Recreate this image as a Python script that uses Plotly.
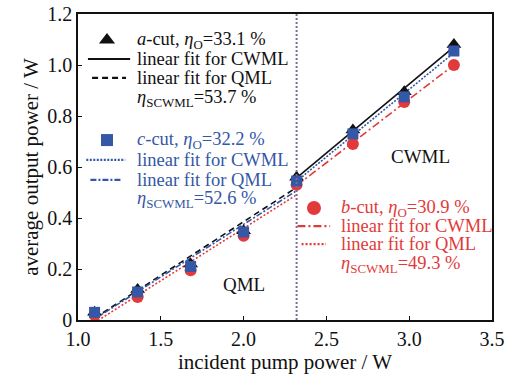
import numpy as np
import plotly.graph_objects as go

# Incident pump power (W) and average output power (W) per crystal cut
pump = [1.10, 1.36, 1.68, 2.00, 2.32, 2.66, 2.97, 3.27]
a_cut = [0.03, 0.12, 0.22, 0.35, 0.56, 0.745, 0.895, 1.08]
c_cut = [0.03, 0.11, 0.21, 0.345, 0.545, 0.73, 0.875, 1.055]
b_cut = [0.02, 0.09, 0.195, 0.33, 0.53, 0.69, 0.855, 1.00]
threshold = 2.32  # QML -> CWML transition

x_ticks = [1.0, 1.5, 2.0, 2.5, 3.0, 3.5]
x_tick_text = ["1.0", "1.5", "2.0", "2.5", "3.0", "3.5"]
y_ticks = [0, 0.2, 0.4, 0.6, 0.8, 1.0, 1.2]
y_tick_text = ["0", "0.2", "0.4", "0.6", "0.8", "1.0", "1.2"]

BLACK = "#111111"
BLUE = "#3457a6"
RED = "#e23a3a"
FONT = "Liberation Serif, Times New Roman, serif"

fig = go.Figure()


def fit_line(xs, ys, lo, hi):
    x = np.array(xs)
    y = np.array(ys)
    m = (x >= lo - 1e-9) & (x <= hi + 1e-9)
    k, b = np.polyfit(x[m], y[m], 1)
    xx = np.array([x[m].min(), x[m].max()])
    return xx, k * xx + b


series = [
    (a_cut, BLACK, "triangle-up", 13, "solid", "6px,4px"),
    (c_cut, BLUE, "square", 11, "2px,1.5px", "6px,2px,2px,2px"),
    (b_cut, RED, "circle", 12, "8px,3px,2px,3px", "2px,2px"),
]

for ys, col, sym, size, cw_dash, q_dash in series:
    xq, yq = fit_line(pump, ys, pump[0], threshold)
    xc, yc = fit_line(pump, ys, threshold, pump[-1])
    fig.add_trace(go.Scatter(x=xq, y=yq, mode="lines",
                             line=dict(color=col, width=1.6, dash=q_dash), showlegend=False))
    fig.add_trace(go.Scatter(x=xc, y=yc, mode="lines",
                             line=dict(color=col, width=1.6, dash=cw_dash), showlegend=False))

# markers on top (b first so a/c sit above)
for ys, col, sym, size, cw_dash, q_dash in [series[2], series[0], series[1]]:
    fig.add_trace(go.Scatter(x=pump, y=ys, mode="markers",
                             marker=dict(symbol=sym, size=size, color=col, line=dict(width=0)),
                             showlegend=False))

fig.add_shape(type="line", x0=threshold, x1=threshold, y0=0, y1=1.2, xref="x", yref="y",
              line=dict(color="#7d6a96", width=2, dash="2px,2px"))

# key blocks drawn on an overlay axis spanning the plot area (0..1)
keys = [
    # glyph x, glyph y, text x, row ys, color, symbol, size, cwml dash, qml dash, line x-range, labels
    (0.070, 0.915, 0.138, [0.915, 0.853, 0.791, 0.725], BLACK, "triangle-up", 14,
     "solid", "6px,4px", (0.024, 0.126), ("<i>a</i>", "33.1", "53.7")),
    (0.070, 0.588, 0.138, [0.588, 0.523, 0.458, 0.395], BLUE, "square", 12,
     "2px,1.5px", "6px,2px,2px,2px", (0.020, 0.114), ("<i>c</i>", "32.2", "52.6")),
    (0.570, 0.366, 0.630, [0.366, 0.307, 0.248, 0.183], RED, "circle", 14,
     "8px,3px,2px,3px", "2px,2px", (0.530, 0.609), ("<i>b</i>", "30.9", "49.3")),
]
for gx, gy, tx, rows, col, sym, size, cwd, qd, (l0, l1), (cut, eo, es) in keys:
    fig.add_trace(go.Scatter(x=[gx], y=[gy], mode="markers", xaxis="x2", yaxis="y2",
                             marker=dict(symbol=sym, size=size, color=col), showlegend=False))
    fig.add_trace(go.Scatter(x=[l0, l1], y=[rows[1], rows[1]], mode="lines", xaxis="x2", yaxis="y2",
                             line=dict(color=col, width=2.2, dash=cwd), showlegend=False))
    fig.add_trace(go.Scatter(x=[l0 + 0.01, l1 - 0.01], y=[rows[2], rows[2]], mode="lines",
                             xaxis="x2", yaxis="y2",
                             line=dict(color=col, width=2.2, dash=qd), showlegend=False))
    texts = [f"{cut}-cut, <i>η</i><sub>O</sub>={eo} %",
             "linear fit for CWML", "linear fit for QML",
             f"<i>η</i><sub>SCWML</sub>={es} %"]
    for t, ry in zip(texts, rows):
        fig.add_annotation(x=tx, y=ry, xref="x2", yref="y2", text=t, showarrow=False,
                           xanchor="left", yanchor="middle",
                           font=dict(family=FONT, size=18.5, color=col))

fig.add_annotation(x=2.0, y=0.14, text="QML", showarrow=False,
                   font=dict(family=FONT, size=19, color=BLACK))
fig.add_annotation(x=3.07, y=0.64, text="CWML", showarrow=False,
                   font=dict(family=FONT, size=19, color=BLACK))

axis_common = dict(showline=True, linecolor=BLACK, linewidth=1.5, mirror=True,
                   ticks="inside", ticklen=4, tickcolor=BLACK, showgrid=False, zeroline=False,
                   automargin=False,
                   tickfont=dict(family=FONT, size=20, color=BLACK))

fig.update_layout(
    width=517, height=374,
    margin=dict(l=78, r=25, t=14, b=54, autoexpand=False),
    paper_bgcolor="white", plot_bgcolor="white",
    xaxis=dict(range=[1.0, 3.5], tickvals=x_ticks, ticktext=x_tick_text,
               title=dict(text="incident pump power / W", standoff=0,
                          font=dict(family=FONT, size=21, color=BLACK)), **axis_common),
    yaxis=dict(range=[0, 1.2], tickvals=y_ticks, ticktext=y_tick_text,
               title=dict(text="average output power / W", standoff=3,
                          font=dict(family=FONT, size=21, color=BLACK)), **axis_common),
    xaxis2=dict(overlaying="x", range=[0, 1], visible=False, fixedrange=True),
    yaxis2=dict(overlaying="y", range=[0, 1], visible=False, fixedrange=True),
)

fig.write_html("out.html")
